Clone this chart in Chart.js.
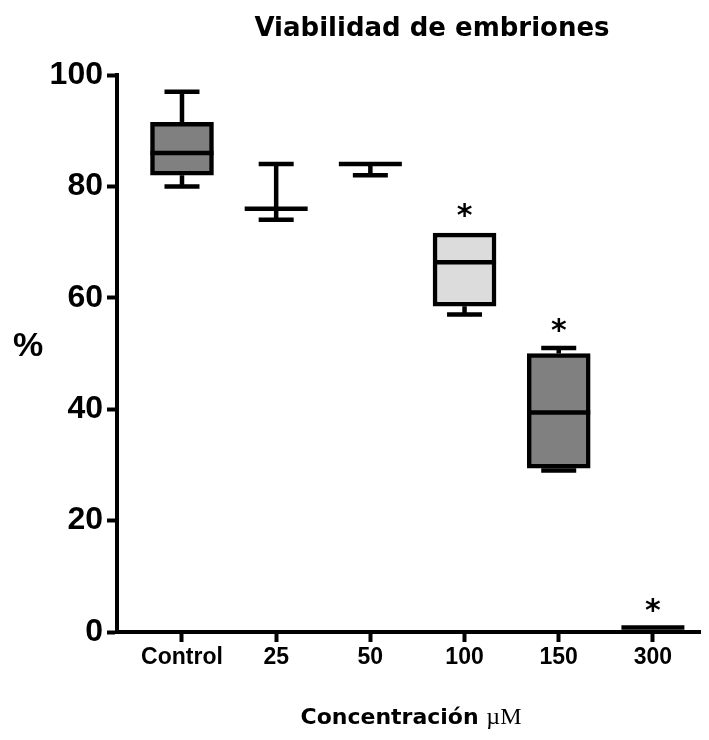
<!DOCTYPE html>
<html><head><meta charset="utf-8">
<script src="https://cdn.jsdelivr.net/npm/chart.js@4.4.1/dist/chart.umd.min.js"></script>
<style>html,body{margin:0;padding:0;background:#fff}#wrap{width:709px;height:740px}</style>
</head><body><div id="wrap"><canvas id="c" width="709" height="740"></canvas></div>
<script>
const categories = ['Control', '25', '50', '100', '150', '300'];
const minVals    = [80,   74, 82, 57,   29,   0.8];
const q1Vals     = [82,   76, 84, 58.5, 29.4, 0.8];
const medianVals = [86,   76, 84, 66.4, 39.4, 0.8];
const q3Vals     = [91.5, 76, 84, 71.6, 50,   0.8];
const maxVals    = [97,   84, 84, 71.6, 51,   0.8];
const boxColors  = ['#808080', '#808080', '#808080', '#dcdcdc', '#808080', '#808080'];
const significance = ['', '', '', '*', '*', '*'];
const yTicks = [0, 20, 40, 60, 80, 100];

const BOX_W = 63, CAP_W = 35, LW = 4.5;

const boxPlugin = {
  id: 'boxExtras',
  afterDatasetsDraw(chart) {
    const ctx = chart.ctx, xs = chart.scales.x, ys = chart.scales.y;
    ctx.save();
    ctx.strokeStyle = '#000';
    ctx.lineWidth = LW;
    ctx.lineCap = 'butt';
    categories.forEach((c, i) => {
      const x = xs.getPixelForValue(i);
      const yMin = ys.getPixelForValue(minVals[i]);
      const yQ1 = ys.getPixelForValue(q1Vals[i]);
      const yMed = ys.getPixelForValue(medianVals[i]);
      const yQ3 = ys.getPixelForValue(q3Vals[i]);
      const yMax = ys.getPixelForValue(maxVals[i]);
      ctx.beginPath();
      if (maxVals[i] > q3Vals[i]) {
        ctx.moveTo(x, yQ3); ctx.lineTo(x, yMax);
        ctx.moveTo(x - CAP_W / 2, yMax); ctx.lineTo(x + CAP_W / 2, yMax);
      }
      if (minVals[i] < q1Vals[i]) {
        ctx.moveTo(x, yQ1); ctx.lineTo(x, yMin);
        ctx.moveTo(x - CAP_W / 2, yMin); ctx.lineTo(x + CAP_W / 2, yMin);
      }
      ctx.moveTo(x - BOX_W / 2, yMed); ctx.lineTo(x + BOX_W / 2, yMed);
      ctx.stroke();
      if (significance[i]) {
        ctx.fillStyle = '#000';
        ctx.font = 'bold 30px "DejaVu Sans"';
        ctx.textAlign = 'center';
        ctx.textBaseline = 'alphabetic';
        ctx.fillText(significance[i], x, yMax - 24 + 16);
      }
    });
    ctx.restore();
  },
  afterDraw(chart) {
    const ctx = chart.ctx;
    ctx.save();
    ctx.fillStyle = '#000';
    ctx.textBaseline = 'alphabetic';
    ctx.font = 'bold 26px "DejaVu Sans"';
    ctx.textAlign = 'center';
    ctx.fillText('Viabilidad de embriones', 432, 36);
    ctx.font = 'bold 34px "Liberation Sans"';
    ctx.fillText('%', 28, 356);
    const p1 = 'Concentración ', p2 = 'µM';
    const f1 = 'bold 22px "DejaVu Sans"', f2 = '24px "Liberation Serif"';
    ctx.font = f1; const w1 = ctx.measureText(p1).width;
    ctx.font = f2; const w2 = ctx.measureText(p2).width;
    const x0 = 411 - (w1 + w2) / 2;
    ctx.textAlign = 'left';
    ctx.font = f1; ctx.fillText(p1, x0, 724);
    ctx.font = f2; ctx.fillText(p2, x0 + w1, 724);
    ctx.restore();
  }
};

new Chart(document.getElementById('c'), {
  type: 'bar',
  data: {
    datasets: [{
      data: categories.map((c, i) => ({ x: i, y: [q1Vals[i], q3Vals[i]] })),
      backgroundColor: boxColors,
      borderColor: '#000',
      borderWidth: LW,
      borderSkipped: false,
      barThickness: BOX_W
    }]
  },
  options: {
    responsive: false,
    devicePixelRatio: 1,
    animation: false,
    layout: { padding: { top: 75, right: 9, bottom: 0, left: 0 } },
    plugins: { legend: { display: false }, tooltip: { enabled: false }, title: { display: false } },
    scales: {
      x: {
        type: 'linear',
        min: -0.69, max: 5.5,
        offset: false,
        afterBuildTicks: s => { s.ticks = categories.map((c, i) => ({ value: i })); },
        afterFit: s => { s.height = 108; },
        ticks: {
          callback: v => categories[v],
          autoSkip: false, maxRotation: 0, includeBounds: false,
          color: '#000', padding: 2,
          font: { family: 'Liberation Sans', size: 23, weight: 'bold' }
        },
        grid: { display: true, offset: false, drawOnChartArea: false, drawTicks: true, tickLength: 10, tickWidth: 4, tickColor: '#000', color: '#000' },
        border: { display: true, color: '#000', width: 4 }
      },
      y: {
        min: 0, max: 100,
        afterBuildTicks: s => { s.ticks = yTicks.map(v => ({ value: v })); },
        afterFit: s => { s.width = 117; },
        ticks: {
          color: '#000', padding: 4,
          font: { family: 'Liberation Sans', size: 32, weight: 'bold' }
        },
        grid: { display: true, drawOnChartArea: false, drawTicks: true, tickLength: 10, tickWidth: 4, tickColor: '#000', color: '#000' },
        border: { display: true, color: '#000', width: 4 }
      }
    }
  },
  plugins: [boxPlugin]
});
</script>
</body></html>
